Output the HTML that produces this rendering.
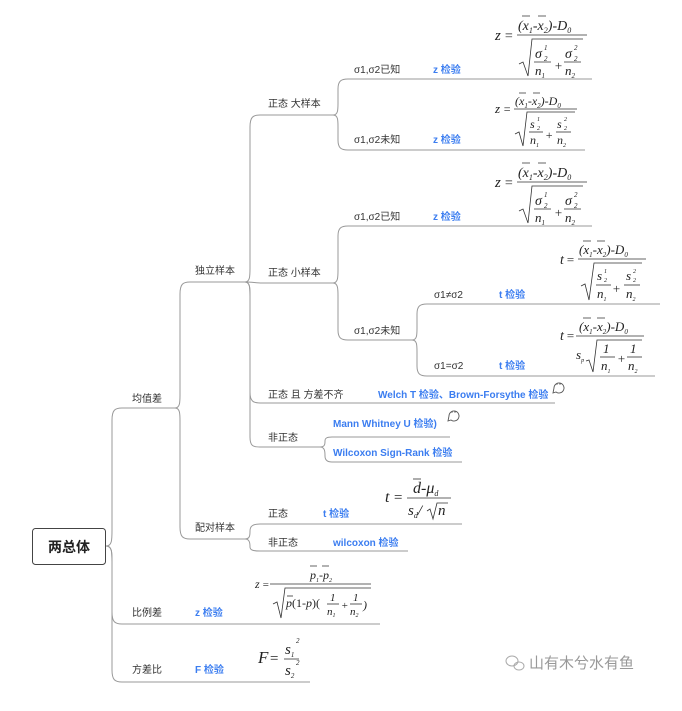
<!DOCTYPE html>
<html><head><meta charset="utf-8"><style>
html,body{margin:0;padding:0;background:#fff;width:682px;height:711px;overflow:hidden}
svg{display:block}
.l{font-family:"Liberation Sans","Noto Sans CJK SC",sans-serif;font-size:10px;fill:#333}
.b{font-family:"Liberation Sans","Noto Sans CJK SC",sans-serif;font-size:10px;fill:#3b7df0;font-weight:bold}
.m{font-family:"Liberation Serif",serif;font-style:italic;fill:#222}
.c{stroke:#999;stroke-width:1;fill:none}
.f{stroke:#333;stroke-width:0.8;fill:none}
</style></head><body>
<svg width="682" height="711" viewBox="0 0 682 711" xmlns="http://www.w3.org/2000/svg">
<!-- root -->
<rect x="32.5" y="528.5" width="73" height="36" rx="3" fill="#fff" stroke="#444" stroke-width="1"/>
<text x="69" y="552" text-anchor="middle" font-family="Liberation Sans,Noto Sans CJK SC,sans-serif" font-size="14" font-weight="bold" fill="#222">两总体</text>

<!-- connectors -->
<g class="c">
<!-- root to level1 -->
<path d="M106,546 C112,546 112,540 112,530 L112,420 C112,410 115,408 122,408 L175,408"/>
<path d="M106,546 C112,546 112,552 112,562 L112,612 C112,622 115,624 122,624 L380,624"/>
<path d="M106,546 C112,546 112,552 112,562 L112,670 C112,680 115,682 122,682 L310,682"/>
<!-- 均值差 -->
<path d="M175,408 C180,408 180,402 180,395 L180,294 C180,284 183,282 190,282 L245,282"/>
<path d="M175,408 C180,408 180,414 180,421 L180,527 C180,537 183,539 190,539 L245,539"/>
<!-- 独立样本 -->
<path d="M245,282 C250,282 250,276 250,268 L250,127 C250,117 253,115 260,115 L333,115"/>
<path d="M245,282 C252,282 256,283 262,283 L333,283"/>
<path d="M245,282 C250,282 250,288 250,296 L250,392 C250,401 253,403 260,403 L555,403"/>
<path d="M245,282 C250,282 250,288 250,296 L250,437 C250,446 253,447 260,447 L320,447"/>
<!-- 大样本 -->
<path d="M333,115 C338,115 338,110 338,103 L338,89 C338,81 341,79 348,79 L592,79"/>
<path d="M333,115 C338,115 338,120 338,127 L338,140 C338,148 341,150 348,150 L585,150"/>
<!-- 小样本 -->
<path d="M333,283 C338,283 338,277 338,270 L338,236 C338,228 341,226 348,226 L592,226"/>
<path d="M333,283 C338,283 338,289 338,296 L338,330 C338,338 341,340 348,340 L412,340"/>
<!-- 未知 -->
<path d="M412,340 C417,340 417,335 417,328 L417,314 C417,306 420,304 427,304 L660,304"/>
<path d="M412,340 C417,340 417,345 417,352 L417,366 C417,374 420,376 427,376 L655,376"/>
<!-- 非正态 -->
<path d="M320,447 C325,447 325,444 325,441 C325,438 327,437 332,437 L450,437"/>
<path d="M320,447 C325,447 325,452 325,456 C325,460 327,462 332,462 L462,462"/>
<!-- 配对 -->
<path d="M245,539 C250,539 250,535 250,531 C250,526 253,524 260,524 L462,524"/>
<path d="M245,539 C250,539 250,544 250,547 C250,550 253,551 260,551 L408,551"/>
</g>

<!-- labels -->
<text class="l" x="132" y="402">均值差</text>
<text class="l" x="132" y="616">比例差</text>
<text class="l" x="132" y="673">方差比</text>
<text class="l" x="195" y="274">独立样本</text>
<text class="l" x="195" y="531">配对样本</text>
<text class="l" x="268" y="107">正态 大样本</text>
<text class="l" x="268" y="276">正态 小样本</text>
<text class="l" x="268" y="398">正态 且 方差不齐</text>
<text class="l" x="268" y="441">非正态</text>
<text class="l" x="268" y="517">正态</text>
<text class="l" x="268" y="546">非正态</text>
<text class="l" x="354" y="73">σ1,σ2已知</text>
<text class="l" x="354" y="143">σ1,σ2未知</text>
<text class="l" x="354" y="220">σ1,σ2已知</text>
<text class="l" x="354" y="334">σ1,σ2未知</text>
<text class="l" x="434" y="298">σ1≠σ2</text>
<text class="l" x="434" y="369">σ1=σ2</text>
<text class="b" x="433" y="73">z 检验</text>
<text class="b" x="433" y="143">z 检验</text>
<text class="b" x="433" y="220">z 检验</text>
<text class="b" x="499" y="298">t 检验</text>
<text class="b" x="499" y="369">t 检验</text>
<text class="b" x="378" y="398">Welch T 检验、Brown-Forsythe 检验</text>
<text class="b" x="333" y="427">Mann Whitney U 检验)</text>
<text class="b" x="333" y="456">Wilcoxon Sign-Rank 检验</text>
<text class="b" x="323" y="517">t 检验</text>
<text class="b" x="333" y="546">wilcoxon 检验</text>
<text class="b" x="195" y="616">z 检验</text>
<text class="b" x="195" y="673">F 检验</text>

<!-- comment icons -->
<g stroke="#555" fill="#fff" stroke-width="0.9">
<path d="M554,388 a5,5 0 1 1 2,4 l-3,1 z"/>
<path d="M449,416 a5,5 0 1 1 2,4 l-3,1 z"/>
</g>
<g fill="#555"><circle cx="557" cy="384" r="0.7"/><circle cx="560" cy="384" r="0.7"/><circle cx="452" cy="412" r="0.7"/><circle cx="455" cy="412" r="0.7"/></g>

<!-- formula: z sigma (group A) -->
<g id="fA" transform="translate(495,8)">
<text class="m" x="0" y="32" font-size="15">z</text><text class="m" x="9" y="32" font-size="14" font-style="normal">=</text>
<text class="m" x="23" y="22" font-size="14">(x<tspan font-size="8" dy="3">1</tspan><tspan dy="-3">-x</tspan><tspan font-size="8" dy="3">2</tspan><tspan dy="-3">)-D</tspan><tspan font-size="8" dy="3">0</tspan></text>
<path class="f" d="M27,8 L35,8 M43,8 L51,8"/>
<path class="f" d="M22,27 L92,27"/>
<path class="f" d="M24,56 L28,54 L33,68 L37,31 L88,31" stroke-width="1.1"/>
<text class="m" x="40" y="50" font-size="14">σ</text><text class="m" x="49" y="42" font-size="7">1</text><text class="m" x="49" y="53" font-size="7">2</text>
<path class="f" d="M39,54 L56,54"/>
<text class="m" x="40" y="67" font-size="13">n<tspan font-size="7" dy="3">1</tspan></text>
<text class="m" x="59" y="62" font-size="13" font-style="normal">+</text>
<text class="m" x="70" y="50" font-size="14">σ</text><text class="m" x="79" y="42" font-size="7">2</text><text class="m" x="79" y="53" font-size="7">2</text>
<path class="f" d="M69,54 L86,54"/>
<text class="m" x="70" y="67" font-size="13">n<tspan font-size="7" dy="3">2</tspan></text>
</g>
<g transform="translate(495,155)">
<text class="m" x="0" y="32" font-size="15">z</text><text class="m" x="9" y="32" font-size="14" font-style="normal">=</text>
<text class="m" x="23" y="22" font-size="14">(x<tspan font-size="8" dy="3">1</tspan><tspan dy="-3">-x</tspan><tspan font-size="8" dy="3">2</tspan><tspan dy="-3">)-D</tspan><tspan font-size="8" dy="3">0</tspan></text>
<path class="f" d="M27,8 L35,8 M43,8 L51,8"/>
<path class="f" d="M22,27 L92,27"/>
<path class="f" d="M24,56 L28,54 L33,68 L37,31 L88,31" stroke-width="1.1"/>
<text class="m" x="40" y="50" font-size="14">σ</text><text class="m" x="49" y="42" font-size="7">1</text><text class="m" x="49" y="53" font-size="7">2</text>
<path class="f" d="M39,54 L56,54"/>
<text class="m" x="40" y="67" font-size="13">n<tspan font-size="7" dy="3">1</tspan></text>
<text class="m" x="59" y="62" font-size="13" font-style="normal">+</text>
<text class="m" x="70" y="50" font-size="14">σ</text><text class="m" x="79" y="42" font-size="7">2</text><text class="m" x="79" y="53" font-size="7">2</text>
<path class="f" d="M69,54 L86,54"/>
<text class="m" x="70" y="67" font-size="13">n<tspan font-size="7" dy="3">2</tspan></text>
</g>
<!-- z with s -->
<g transform="translate(495,88)">
<text class="m" x="0" y="25" font-size="13">z</text><text class="m" x="8" y="25" font-size="12" font-style="normal">=</text>
<text class="m" x="20" y="17" font-size="12">(x<tspan font-size="7" dy="3">1</tspan><tspan dy="-3">-x</tspan><tspan font-size="7" dy="3">2</tspan><tspan dy="-3">)-D</tspan><tspan font-size="7" dy="3">0</tspan></text>
<path class="f" d="M24,5 L31,5 M38,5 L45,5"/>
<path class="f" d="M19,21 L82,21"/>
<path class="f" d="M20,46 L24,44 L28,58 L32,24 L80,24" stroke-width="1.1"/>
<text class="m" x="35" y="40" font-size="12">s</text><text class="m" x="42" y="33" font-size="6">1</text><text class="m" x="42" y="42" font-size="6">2</text>
<path class="f" d="M34,44 L48,44"/>
<text class="m" x="35" y="56" font-size="12">n<tspan font-size="6" dy="3">1</tspan></text>
<text class="m" x="50" y="51" font-size="12" font-style="normal">+</text>
<text class="m" x="62" y="40" font-size="12">s</text><text class="m" x="69" y="33" font-size="6">2</text><text class="m" x="69" y="42" font-size="6">2</text>
<path class="f" d="M61,44 L76,44"/>
<text class="m" x="62" y="56" font-size="12">n<tspan font-size="6" dy="3">2</tspan></text>
</g>
<!-- t with s -->
<g transform="translate(560,238)">
<text class="m" x="0" y="26" font-size="14">t</text><text class="m" x="6" y="26" font-size="13" font-style="normal">=</text>
<text class="m" x="19" y="16" font-size="13" font-style="normal">(<tspan font-style="italic">x</tspan><tspan font-size="7" dy="3">1</tspan><tspan dy="-3">-</tspan><tspan font-style="italic">x</tspan><tspan font-size="7" dy="3">2</tspan><tspan dy="-3">)-</tspan><tspan font-style="italic">D</tspan><tspan font-size="7" dy="3">0</tspan></text>
<path class="f" d="M23,3 L31,3 M37,3 L45,3"/>
<path class="f" d="M18,21 L86,21"/>
<path class="f" d="M21,48 L25,46 L29,62 L34,25 L82,25" stroke-width="1.1"/>
<text class="m" x="37" y="42" font-size="13">s</text><text class="m" x="44" y="35" font-size="6">1</text><text class="m" x="44" y="44" font-size="6">2</text>
<path class="f" d="M36,47 L51,47"/>
<text class="m" x="37" y="60" font-size="13">n<tspan font-size="6" dy="3">1</tspan></text>
<text class="m" x="52" y="55" font-size="13" font-style="normal">+</text>
<text class="m" x="66" y="42" font-size="13">s</text><text class="m" x="73" y="35" font-size="6">2</text><text class="m" x="73" y="44" font-size="6">2</text>
<path class="f" d="M64,47 L80,47"/>
<text class="m" x="66" y="60" font-size="13">n<tspan font-size="6" dy="3">2</tspan></text>
</g>
<!-- t with sp -->
<g transform="translate(560,315)">
<text class="m" x="0" y="25" font-size="14">t</text><text class="m" x="6" y="25" font-size="13" font-style="normal">=</text>
<text class="m" x="19" y="16" font-size="13" font-style="normal">(<tspan font-style="italic">x</tspan><tspan font-size="7" dy="3">1</tspan><tspan dy="-3">-</tspan><tspan font-style="italic">x</tspan><tspan font-size="7" dy="3">2</tspan><tspan dy="-3">)-</tspan><tspan font-style="italic">D</tspan><tspan font-size="7" dy="3">0</tspan></text>
<path class="f" d="M23,3 L31,3 M37,3 L45,3"/>
<path class="f" d="M16,21 L84,21"/>
<text class="m" x="16" y="44" font-size="13">s<tspan font-size="6" dy="3">p</tspan></text>
<path class="f" d="M26,46 L29,45 L33,57 L37,25 L82,25" stroke-width="1.1"/>
<text class="m" x="43" y="38" font-size="13" font-style="normal">1</text>
<path class="f" d="M40,42 L55,42"/>
<text class="m" x="41" y="55" font-size="13">n<tspan font-size="6" dy="3">1</tspan></text>
<text class="m" x="57" y="48" font-size="13" font-style="normal">+</text>
<text class="m" x="70" y="38" font-size="13" font-style="normal">1</text>
<path class="f" d="M67,42 L82,42"/>
<text class="m" x="68" y="55" font-size="13">n<tspan font-size="6" dy="3">2</tspan></text>
</g>
<!-- paired t -->
<g transform="translate(385,478)">
<text class="m" x="0" y="24" font-size="16">t</text><text class="m" x="8" y="24" font-size="15" font-style="normal">=</text>
<text class="m" x="28" y="15" font-size="16">d-μ<tspan font-size="8" dy="3">d</tspan></text>
<path class="f" d="M28,1 L36,1"/>
<path class="f" d="M22,20 L66,20"/>
<text class="m" x="23" y="37" font-size="15">s<tspan font-size="8" dy="3">d</tspan><tspan dy="-3">/</tspan></text>
<path class="f" d="M42,33 L45,31 L48,41 L52,25 L63,25" stroke-width="1.1"/>
<text class="m" x="53" y="37" font-size="15">n</text>
</g>
<!-- proportion -->
<g transform="translate(255,566)">
<text class="m" x="0" y="22" font-size="12">z</text><text class="m" x="7" y="22" font-size="11" font-style="normal">=</text>
<text class="m" x="55" y="13" font-size="12">p<tspan font-size="6" dy="3">1</tspan><tspan dy="-3">-p</tspan><tspan font-size="6" dy="3">2</tspan></text>
<path class="f" d="M55,0 L62,0 M67,0 L74,0"/>
<path class="f" d="M15,18 L116,18"/>
<path class="f" d="M18,38 L22,36 L26,52 L30,22 L116,22" stroke-width="1.1"/>
<text class="m" x="31" y="41" font-size="12">p<tspan font-style="normal">(1-</tspan>p<tspan font-style="normal">)(</tspan></text>
<path class="f" d="M32,30 L38,30"/>
<text class="m" x="75" y="35" font-size="11" font-style="normal">1</text>
<path class="f" d="M72,38 L84,38"/>
<text class="m" x="72" y="49" font-size="11">n<tspan font-size="6" dy="2">1</tspan></text>
<text class="m" x="86" y="43" font-size="11" font-style="normal">+</text>
<text class="m" x="98" y="35" font-size="11" font-style="normal">1</text>
<path class="f" d="M95,38 L107,38"/>
<text class="m" x="95" y="49" font-size="11">n<tspan font-size="6" dy="2">2</tspan></text>
<text class="m" x="108" y="43" font-size="12" font-style="normal">)</text>
</g>
<!-- F -->
<g transform="translate(258,638)">
<text class="m" x="0" y="25" font-size="17">F</text><text class="m" x="11" y="25" font-size="15" font-style="normal">=</text>
<text class="m" x="27" y="16" font-size="15">s<tspan font-size="7" dy="3">1</tspan></text><text class="m" x="38" y="5" font-size="7">2</text>
<path class="f" d="M26,21 L41,21"/>
<text class="m" x="27" y="37" font-size="15">s<tspan font-size="7" dy="3">2</tspan></text><text class="m" x="38" y="27" font-size="7">2</text>
</g>

<!-- watermark -->
<g fill="none" stroke="#aaa" stroke-width="1">
<ellipse cx="512" cy="661" rx="6" ry="5"/><ellipse cx="519" cy="666" rx="5" ry="4"/>
</g>
<text x="529" y="668" font-family="Liberation Sans,Noto Sans CJK SC,sans-serif" font-size="15" fill="#999">山有木兮水有鱼</text>
</svg>
</body></html>
